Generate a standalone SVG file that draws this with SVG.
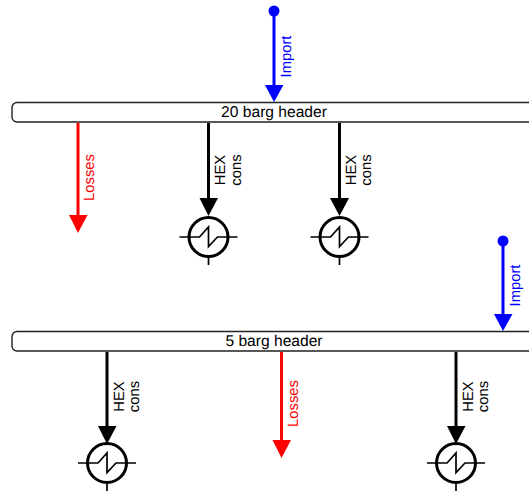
<svg xmlns="http://www.w3.org/2000/svg" width="529" height="491" viewBox="0 0 529 491">
<style>
text{font-family:"Liberation Sans",Arial,sans-serif;font-size:14.800px;text-rendering:geometricPrecision}
.h{fill:#fff;stroke:#222;stroke-width:1.4}
.ht{text-anchor:middle;fill:#000;font-size:15.600px}
.l{fill:none;stroke-width:3}
.k{stroke:#000}.r{stroke:#f00}.b{stroke:#00f}
.hx{fill:none;stroke:#000;stroke-width:3}
.t{fill:none;stroke:#000;stroke-width:1.700}
.lab{text-anchor:middle}
</style>
<defs>
<g id="hex">
<circle r="19.500" fill="#fff"/>
<path class="t" d="M-29 0H-9L0 -10V9.500L9 0H29"/>
<line class="t" x1="0" y1="20" x2="0" y2="28"/>
<circle class="hx" r="19.500"/>
</g>
</defs>
<g id="header-20"><rect class="h" x="12" y="102.500" width="530" height="19.500" rx="5"/><text class="ht" x="274" y="116.500">20 barg header</text></g>
<g id="header-5"><rect class="h" x="12" y="331.500" width="530" height="19.500" rx="5"/><text class="ht" x="274" y="345.500">5 barg header</text></g>
<g id="connectors">
<path class="l b" d="M274 11V88"/><circle cx="274" cy="11" r="5.500" fill="#00f"/><path d="M265 85H283.500L274 102Z" fill="#00f"/>
<path class="l r" d="M78 123V217"/><path d="M69 215H87.500L78 233Z" fill="#f00"/>
<path class="l k" d="M208.500 123V200"/><path d="M199.500 198H218L208.500 216Z"/>
<path class="l k" d="M339.500 123V200"/><path d="M330 198H349L339.500 216Z"/>
<path class="l b" d="M503 241V318"/><circle cx="503" cy="241" r="5.500" fill="#00f"/><path d="M494 314H512.500L503 331Z" fill="#00f"/>
<path class="l k" d="M107 352V430"/><path d="M98 426H116.500L107 444Z"/>
<path class="l r" d="M281.500 352V442"/><path d="M272.500 440H291L281.500 458Z" fill="#f00"/>
<path class="l k" d="M456 352V430"/><path d="M447 426H465.500L456 444Z"/>
</g>
<g id="hex1" transform="translate(208.500 237)"><use href="#hex"/></g>
<g id="hex2" transform="translate(339.500 237)"><use href="#hex"/></g>
<g id="hex3" transform="translate(107 463)"><use href="#hex"/></g>
<g id="hex4" transform="translate(456 463)"><use href="#hex"/></g>
<g id="labels">
<text class="lab" fill="#00f" transform="translate(291 56.500) rotate(-90)">Import</text>
<text class="lab" fill="#00f" transform="translate(520 285.500) rotate(-90)">Import</text>
<text class="lab" fill="#f00" transform="translate(94 177.500) rotate(-90)">Losses</text>
<text class="lab" fill="#f00" transform="translate(298 403.500) rotate(-90)">Losses</text>
<text class="lab" transform="translate(225 170) rotate(-90)">HEX</text><text class="lab" transform="translate(240.500 170) rotate(-90)">cons</text>
<text class="lab" transform="translate(355.500 170) rotate(-90)">HEX</text><text class="lab" transform="translate(371 170) rotate(-90)">cons</text>
<text class="lab" transform="translate(123.500 396.500) rotate(-90)">HEX</text><text class="lab" transform="translate(139 396.500) rotate(-90)">cons</text>
<text class="lab" transform="translate(472.500 396.500) rotate(-90)">HEX</text><text class="lab" transform="translate(488 396.500) rotate(-90)">cons</text>
</g>
</svg>
